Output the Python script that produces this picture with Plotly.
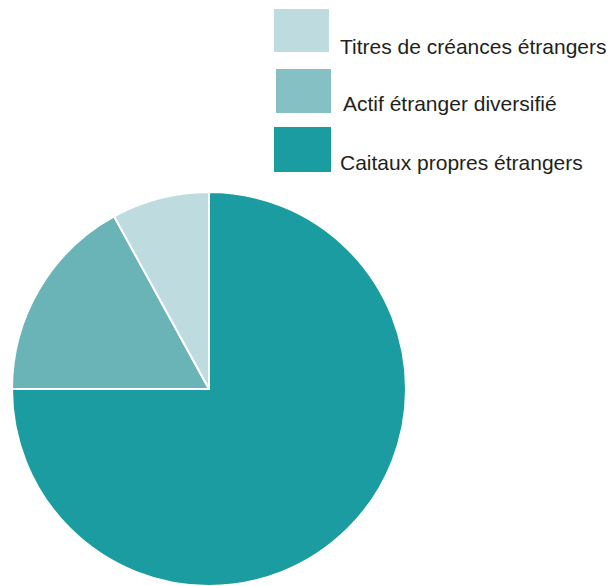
import plotly.graph_objects as go

# Portfolio composition (share, %), in drawing order clockwise from 12 o'clock
labels = ["Caitaux propres étrangers", "Actif étranger diversifié", "Titres de créances étrangers"]
values = [75, 17, 8]
slice_colors = ["#1a9ca0", "#6ab4b8", "#bedcdf"]

# Legend entries, top to bottom
legend_labels = ["Titres de créances étrangers", "Actif étranger diversifié", "Caitaux propres étrangers"]
legend_colors = ["#bedcdf", "#85c1c4", "#1a9ca0"]

W, H = 613, 586

fig = go.Figure(
    go.Pie(
        labels=labels,
        values=values,
        sort=False,
        direction="clockwise",
        rotation=0,
        marker=dict(colors=slice_colors, line=dict(color="white", width=2)),
        textinfo="none",
        hoverinfo="label+percent",
        showlegend=False,
        domain=dict(x=[11 / W, 407 / W], y=[0, (H - 192) / H]),
    )
)

# Hand-placed legend: swatches and labels
boxes = [(274, 9, 329, 52), (276, 69, 331, 113), (274, 127, 331, 172)]
text_pos = [(338, 46), (341, 104), (338, 162)]
for (x0, y0, x1, y1), col in zip(boxes, legend_colors):
    fig.add_shape(
        type="rect", xref="paper", yref="paper",
        x0=x0 / W, x1=x1 / W, y0=1 - y0 / H, y1=1 - y1 / H,
        fillcolor=col, line=dict(width=0),
    )
for (tx, ty), lab in zip(text_pos, legend_labels):
    fig.add_annotation(
        text=lab, xref="paper", yref="paper",
        x=tx / W, y=1 - ty / H, xanchor="left", yanchor="middle",
        showarrow=False, font=dict(family="Liberation Sans, Arial", size=21, color="#231f20"),
    )

fig.update_layout(
    width=W, height=H,
    margin=dict(l=0, r=0, t=0, b=0),
    paper_bgcolor="white", plot_bgcolor="white",
)

fig.write_html("out.html")
